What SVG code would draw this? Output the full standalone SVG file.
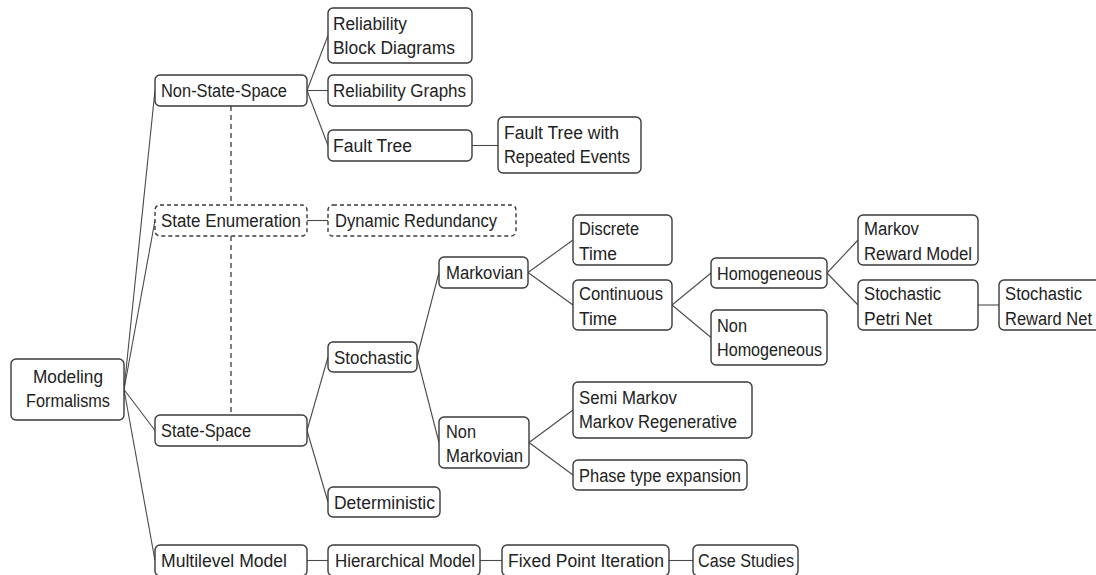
<svg xmlns="http://www.w3.org/2000/svg" width="1096" height="575" viewBox="0 0 1096 575">
<style>
.box{fill:#fff;stroke:#3a3a3a;stroke-width:1.4}
.dbox{fill:#fff;stroke:#3a3a3a;stroke-width:1.4;stroke-dasharray:4 3}
.edge{fill:none;stroke:#4a4a4a;stroke-width:1.1}
.dedge{fill:none;stroke:#3a3a3a;stroke-width:1.3;stroke-dasharray:5 4}
text{font-family:"Liberation Sans",Arial,sans-serif;font-size:18px;fill:#222}
</style>
<rect width="1096" height="575" fill="#fff"/>
<g id="connectors">
<line class="edge" x1="124" y1="389.5" x2="155" y2="90.5"/>
<line class="edge" x1="124" y1="389.5" x2="155" y2="220.5"/>
<line class="edge" x1="124" y1="389.5" x2="155" y2="430.5"/>
<line class="edge" x1="124" y1="389.5" x2="155" y2="560.5"/>
<line class="dedge" x1="231" y1="106" x2="231" y2="205"/>
<line class="dedge" x1="231" y1="236" x2="231" y2="415"/>
<line class="edge" x1="307" y1="90.5" x2="328" y2="35.5"/>
<line class="edge" x1="307" y1="90.5" x2="328" y2="90.5"/>
<line class="edge" x1="307" y1="90.5" x2="328" y2="145.5"/>
<line class="edge" x1="472" y1="145.5" x2="498" y2="145.5"/>
<line class="edge" x1="307" y1="220.5" x2="328" y2="220.5"/>
<line class="edge" x1="307" y1="430.5" x2="328" y2="357"/>
<line class="edge" x1="307" y1="430.5" x2="328" y2="502"/>
<line class="edge" x1="417" y1="357" x2="439" y2="272.5"/>
<line class="edge" x1="417" y1="357" x2="439" y2="442.5"/>
<line class="edge" x1="528" y1="272.5" x2="573" y2="240"/>
<line class="edge" x1="528" y1="272.5" x2="573" y2="305"/>
<line class="edge" x1="672" y1="305" x2="711" y2="273"/>
<line class="edge" x1="672" y1="305" x2="711" y2="337.5"/>
<line class="edge" x1="827" y1="273" x2="858" y2="240"/>
<line class="edge" x1="827" y1="273" x2="858" y2="305"/>
<line class="edge" x1="978" y1="305" x2="999" y2="305"/>
<line class="edge" x1="529" y1="442.5" x2="573" y2="410"/>
<line class="edge" x1="529" y1="442.5" x2="573" y2="475"/>
<line class="edge" x1="307" y1="560.5" x2="328" y2="560.5"/>
<line class="edge" x1="480" y1="560.5" x2="502" y2="560.5"/>
<line class="edge" x1="669" y1="560.5" x2="693" y2="560.5"/>
</g>
<g id="modeling-formalisms"><rect class="box" x="11" y="359" width="113" height="61" rx="5"/><text x="68" y="383" text-anchor="middle" textLength="70" lengthAdjust="spacingAndGlyphs">Modeling</text><text x="68" y="407" text-anchor="middle" textLength="84" lengthAdjust="spacingAndGlyphs">Formalisms</text></g>
<g id="non-state-space"><rect class="box" x="155" y="75" width="152" height="31" rx="5"/><text x="161" y="97" textLength="126" lengthAdjust="spacingAndGlyphs">Non-State-Space</text></g>
<g id="state-enumeration"><rect class="dbox" x="155" y="205" width="152" height="31" rx="5"/><text x="161" y="227" textLength="140" lengthAdjust="spacingAndGlyphs">State Enumeration</text></g>
<g id="state-space"><rect class="box" x="155" y="415" width="152" height="31" rx="5"/><text x="161" y="437" textLength="90" lengthAdjust="spacingAndGlyphs">State-Space</text></g>
<g id="multilevel-model"><rect class="box" x="155" y="545" width="152" height="31" rx="5"/><text x="161" y="567" textLength="126" lengthAdjust="spacingAndGlyphs">Multilevel Model</text></g>
<g id="rbd"><rect class="box" x="328" y="8" width="144" height="55" rx="5"/><text x="333" y="30" textLength="74" lengthAdjust="spacingAndGlyphs">Reliability</text><text x="333" y="53.5" textLength="122" lengthAdjust="spacingAndGlyphs">Block Diagrams</text></g>
<g id="reliability-graphs"><rect class="box" x="328" y="75" width="144" height="31" rx="5"/><text x="333" y="97" textLength="133" lengthAdjust="spacingAndGlyphs">Reliability Graphs</text></g>
<g id="fault-tree"><rect class="box" x="328" y="130" width="144" height="31" rx="5"/><text x="333" y="152" textLength="79" lengthAdjust="spacingAndGlyphs">Fault Tree</text></g>
<g id="fault-tree-repeated"><rect class="box" x="498" y="117" width="143" height="56" rx="5"/><text x="504" y="138.5" textLength="115" lengthAdjust="spacingAndGlyphs">Fault Tree with</text><text x="504" y="162.5" textLength="126" lengthAdjust="spacingAndGlyphs">Repeated Events</text></g>
<g id="dynamic-redundancy"><rect class="dbox" x="328" y="205" width="188" height="31" rx="5"/><text x="335" y="227" textLength="162" lengthAdjust="spacingAndGlyphs">Dynamic Redundancy</text></g>
<g id="stochastic"><rect class="box" x="328" y="342" width="89" height="30" rx="5"/><text x="334" y="363.5" textLength="78" lengthAdjust="spacingAndGlyphs">Stochastic</text></g>
<g id="deterministic"><rect class="box" x="328" y="487" width="112" height="30" rx="5"/><text x="334" y="508.5" textLength="101" lengthAdjust="spacingAndGlyphs">Deterministic</text></g>
<g id="hierarchical-model"><rect class="box" x="328" y="545" width="152" height="31" rx="5"/><text x="335" y="567" textLength="140" lengthAdjust="spacingAndGlyphs">Hierarchical Model</text></g>
<g id="fixed-point-iteration"><rect class="box" x="502" y="545" width="167" height="31" rx="5"/><text x="508" y="567" textLength="156" lengthAdjust="spacingAndGlyphs">Fixed Point Iteration</text></g>
<g id="case-studies"><rect class="box" x="693" y="545" width="105" height="31" rx="5"/><text x="698" y="567" textLength="96" lengthAdjust="spacingAndGlyphs">Case Studies</text></g>
<g id="markovian"><rect class="box" x="439" y="257" width="89" height="31" rx="5"/><text x="446" y="279" textLength="77" lengthAdjust="spacingAndGlyphs">Markovian</text></g>
<g id="non-markovian"><rect class="box" x="439" y="417" width="90" height="51" rx="5"/><text x="446" y="437.5" textLength="30" lengthAdjust="spacingAndGlyphs">Non</text><text x="446" y="461.5" textLength="77" lengthAdjust="spacingAndGlyphs">Markovian</text></g>
<g id="discrete-time"><rect class="box" x="573" y="215" width="99" height="50" rx="5"/><text x="579" y="235" textLength="60" lengthAdjust="spacingAndGlyphs">Discrete</text><text x="579" y="259.5" textLength="38" lengthAdjust="spacingAndGlyphs">Time</text></g>
<g id="continuous-time"><rect class="box" x="573" y="280" width="99" height="50" rx="5"/><text x="579" y="300" textLength="84" lengthAdjust="spacingAndGlyphs">Continuous</text><text x="579" y="324.5" textLength="38" lengthAdjust="spacingAndGlyphs">Time</text></g>
<g id="semi-markov"><rect class="box" x="573" y="382" width="179" height="56" rx="5"/><text x="579" y="404" textLength="98" lengthAdjust="spacingAndGlyphs">Semi Markov</text><text x="579" y="428" textLength="158" lengthAdjust="spacingAndGlyphs">Markov Regenerative</text></g>
<g id="phase-type"><rect class="box" x="573" y="460" width="174" height="30" rx="5"/><text x="579" y="481.5" textLength="162" lengthAdjust="spacingAndGlyphs">Phase type expansion</text></g>
<g id="homogeneous"><rect class="box" x="711" y="258" width="116" height="30" rx="5"/><text x="717" y="279.5" textLength="105" lengthAdjust="spacingAndGlyphs">Homogeneous</text></g>
<g id="non-homogeneous"><rect class="box" x="711" y="310" width="116" height="55" rx="5"/><text x="717" y="331.5" textLength="30" lengthAdjust="spacingAndGlyphs">Non</text><text x="717" y="355.5" textLength="105" lengthAdjust="spacingAndGlyphs">Homogeneous</text></g>
<g id="markov-reward-model"><rect class="box" x="858" y="215" width="120" height="50" rx="5"/><text x="864" y="235" textLength="55" lengthAdjust="spacingAndGlyphs">Markov</text><text x="864" y="259.5" textLength="108" lengthAdjust="spacingAndGlyphs">Reward Model</text></g>
<g id="stochastic-petri-net"><rect class="box" x="858" y="280" width="120" height="50" rx="5"/><text x="864" y="300" textLength="77" lengthAdjust="spacingAndGlyphs">Stochastic</text><text x="864" y="324.5" textLength="68" lengthAdjust="spacingAndGlyphs">Petri Net</text></g>
<g id="stochastic-reward-net"><rect class="box" x="999" y="280" width="104" height="50" rx="5"/><text x="1005" y="300" textLength="77" lengthAdjust="spacingAndGlyphs">Stochastic</text><text x="1005" y="324.5" textLength="87" lengthAdjust="spacingAndGlyphs">Reward Net</text></g>
</svg>
